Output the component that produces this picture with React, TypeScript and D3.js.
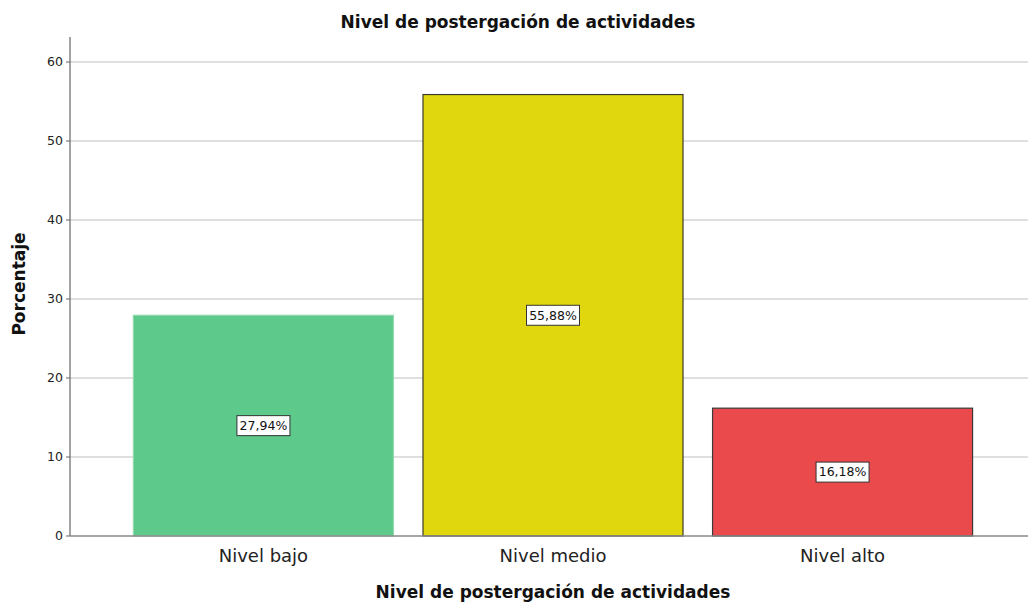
import React from "react";
import * as d3 from "d3";

const categories = ["Nivel bajo", "Nivel medio", "Nivel alto"];
const values = [27.94, 55.88, 16.18];
const labels = ["27,94%", "55,88%", "16,18%"];
const colors = ["#5dc98a", "#e1d70f", "#ea4a4c"];
const strokes = ["#8fd9ad", "#3a3a2a", "#3a3a3a"];
const yTicks = [0, 10, 20, 30, 40, 50, 60];

const W = 1028;
const H = 603;
const L = 70;
const R = 1036;
const TOP = 37;
const BOTTOM = 536;

export default function App() {
  const x = d3.scaleBand<string>().domain(categories).range([L, R]).paddingInner(0.102).paddingOuter(0.219);
  const y = d3.scaleLinear().domain([0, 60]).range([BOTTOM, 62]);
  const font = "'DejaVu Sans', sans-serif";
  return (
    <svg width={W} height={H} style={{ position: "absolute", left: 0, top: 0, background: "#fff" }} fontFamily={font}>
      <rect x={0} y={0} width={W} height={H} fill="#fff" />
      <text x={518} y={28} textAnchor="middle" fontSize={17} fontWeight="bold" fill="#111">
        Nivel de postergación de actividades
      </text>
      {yTicks.filter((t) => t > 0).map((t) => (
        <line key={"g" + t} x1={L} x2={W} y1={y(t)} y2={y(t)} stroke="#d4d4d4" strokeWidth={1.5} />
      ))}
      {yTicks.map((t) => (
        <g key={"t" + t}>
          <line x1={L - 4} x2={L} y1={y(t)} y2={y(t)} stroke="#666" />
          <text x={L - 7} y={y(t)} dy="0.35em" textAnchor="end" fontSize={12.5} fill="#222">
            {t}
          </text>
        </g>
      ))}
      {categories.map((c, i) => (
        <rect
          key={c}
          x={x(c)!}
          y={y(values[i])}
          width={x.bandwidth()}
          height={BOTTOM - y(values[i])}
          fill={colors[i]}
          stroke={strokes[i]}
          strokeWidth={1.2}
        />
      ))}
      <line x1={L} x2={L} y1={TOP} y2={BOTTOM} stroke="#666" strokeWidth={1.2} />
      <line x1={L} x2={W} y1={BOTTOM} y2={BOTTOM} stroke="#888" strokeWidth={1.5} />
      {categories.map((c, i) => {
        const cx = x(c)! + x.bandwidth() / 2;
        const cy = y(values[i] / 2);
        return (
          <g key={"l" + c}>
            <rect x={cx - 26.5} y={cy - 10} width={53} height={20} fill="#fff" stroke="#333" strokeWidth={1} />
            <text x={cx} y={cy} dy="0.35em" textAnchor="middle" fontSize={12.5} fill="#111">
              {labels[i]}
            </text>
          </g>
        );
      })}
      {categories.map((c) => (
        <text key={"c" + c} x={x(c)! + x.bandwidth() / 2} y={562} textAnchor="middle" fontSize={18} fill="#222">
          {c}
        </text>
      ))}
      <text x={553} y={598} textAnchor="middle" fontSize={17} fontWeight="bold" fill="#111">
        Nivel de postergación de actividades
      </text>
      <text
        transform={`translate(25,${284}) rotate(-90)`}
        textAnchor="middle"
        fontSize={17}
        fontWeight="bold"
        fill="#111"
      >
        Porcentaje
      </text>
    </svg>
  );
}
